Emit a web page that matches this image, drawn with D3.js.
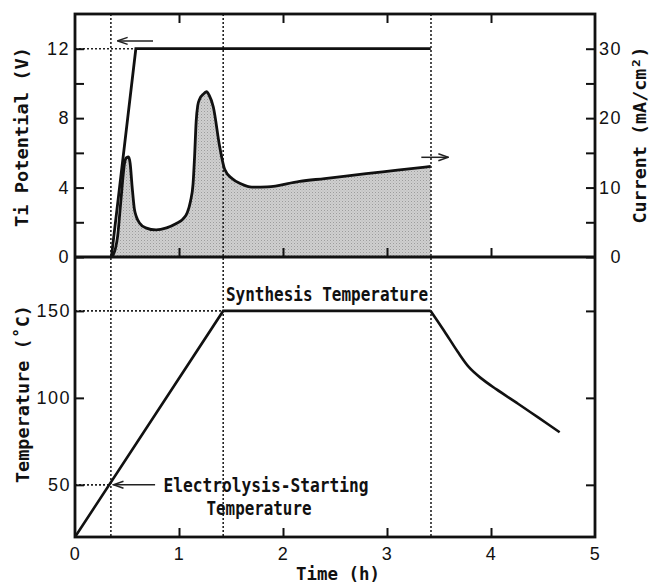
<!DOCTYPE html>
<html><head><meta charset="utf-8">
<script src="https://cdn.jsdelivr.net/npm/d3@7"></script>
<style>
html,body{margin:0;padding:0;background:#fff;}
svg{display:block;}
.tick text{font-family:"Liberation Sans",Arial,sans-serif;font-size:18px;letter-spacing:1.5px;fill:#111;}
.ttl{font-family:"DejaVu Sans Mono",monospace;font-weight:bold;font-size:18px;fill:#111;}
.ann{font-size:19.5px;}
</style>
</head><body>
<svg id="c" width="649" height="585"></svg>
<script>
// ---- data ----
const timeTicks = [0, 1, 2, 3, 4, 5];
const potentialTicks = [0, 2, 4, 6, 8, 10, 12];
const potentialLabeled = [0, 4, 8, 12];
const currentTicks = [0, 5, 10, 15, 20, 25, 30];
const currentLabeled = [0, 10, 20, 30];
const tempTicks = [50, 100, 150];

const potentialTime = [0.35, 0.585, 3.42];
const potentialV = [0, 12, 12];

const currentTime = [0.35, 0.37, 0.39, 0.41, 0.43, 0.455, 0.475, 0.495, 0.515, 0.53, 0.55, 0.57, 0.59, 0.62, 0.68, 0.78, 0.88, 0.97, 1.04, 1.08, 1.11, 1.135, 1.15, 1.165, 1.18, 1.2, 1.23, 1.265, 1.29, 1.33, 1.39, 1.44, 1.51, 1.6, 1.7, 1.85, 2.16, 2.4, 2.8, 3.1, 3.42];
const currentVal  = [0, 0.4, 1.3, 3, 6.2, 10.5, 13.4, 14.3, 14.4, 13.5, 10, 7, 5.8, 4.9, 4.2, 3.9, 4.2, 4.8, 5.5, 6.4, 8, 10.5, 14.5, 19.5, 21.8, 22.8, 23.4, 23.8, 23.3, 21.6, 16, 12.6, 11.3, 10.5, 10.05, 10.1, 10.9, 11.3, 12.0, 12.5, 13.05];

const tempRampTime = [0, 1.425, 3.42];
const tempRampVal = [20, 150, 150];
const tempCoolTime = [3.42, 3.55, 3.68, 3.79, 3.9, 4.05, 4.26, 4.46, 4.66];
const tempCoolVal = [150, 138.5, 126.5, 117.5, 111.5, 105, 96.6, 88.5, 80.2];

const markerTimes = [0.345, 1.425, 3.423];
const axisTitles = ["Ti Potential (V)", "Current (mA/cm²)", "Temperature (˚C)", "Time (h)"];

// ---- layout ----
const svg = d3.select("#c");
const L = 75, R = 595, T = 14, M = 257, B = 537;
const x = d3.scaleLinear().domain([0, 5]).range([L, R]);
const yV = d3.scaleLinear().domain([0, 14]).range([M, T]);
const yI = d3.scaleLinear().domain([0, 35]).range([M, T]);
const yT = d3.scaleLinear().domain([20, 181]).range([B, M]);

svg.append("rect").attr("width", 649).attr("height", 585).attr("fill", "#fff");

const defs = svg.append("defs");
const pat = defs.append("pattern").attr("id", "stip").attr("width", 3).attr("height", 3).attr("patternUnits", "userSpaceOnUse");
pat.append("rect").attr("width", 3).attr("height", 3).attr("fill", "#cfcfcf");
pat.append("rect").attr("width", 1).attr("height", 1).attr("fill", "#9c9c9c");
pat.append("rect").attr("x", 1.5).attr("y", 1.5).attr("width", 1).attr("height", 1).attr("fill", "#b6b6b6");

const mk = defs.append("marker").attr("id", "arr").attr("viewBox", "0 0 12 10").attr("refX", 11).attr("refY", 5)
  .attr("markerWidth", 12).attr("markerHeight", 10).attr("markerUnits", "userSpaceOnUse").attr("orient", "auto");
mk.append("path").attr("d", "M1,1.5 L11,5 L1,8.5").attr("fill", "none").attr("stroke", "#222").attr("stroke-width", 1.5);

// current fill
const curData = currentTime.map((t, i) => [t, currentVal[i]]);
svg.append("path").datum(curData)
  .attr("d", d3.area().x(d => x(d[0])).y0(yI(0)).y1(d => yI(d[1])).curve(d3.curveMonotoneX))
  .attr("fill", "url(#stip)");

// dotted guides
function dline(x1, y1, x2, y2) {
  svg.append("line").attr("x1", x1).attr("y1", y1).attr("x2", x2).attr("y2", y2)
    .attr("stroke", "#222").attr("stroke-width", 1.6).attr("stroke-dasharray", "2,2");
}
markerTimes.forEach(t => dline(x(t), T, x(t), B));
dline(L, yV(12), x(potentialTime[1]), yV(12));
dline(L, yT(150), x(tempRampTime[1]), yT(150));
dline(L, yT(50), x(markerTimes[0]), yT(50));

// current line
svg.append("path").datum(curData)
  .attr("d", d3.line().x(d => x(d[0])).y(d => yI(d[1])).curve(d3.curveMonotoneX))
  .attr("fill", "none").attr("stroke", "#111").attr("stroke-width", 2.8).attr("stroke-linejoin", "round");

// potential line
svg.append("path").datum(potentialTime.map((t, i) => [t, potentialV[i]]))
  .attr("d", d3.line().x(d => x(d[0])).y(d => yV(d[1])))
  .attr("fill", "none").attr("stroke", "#111").attr("stroke-width", 2.8);

// temperature
svg.append("path").datum(tempRampTime.map((t, i) => [t, tempRampVal[i]]))
  .attr("d", d3.line().x(d => x(d[0])).y(d => yT(d[1])))
  .attr("fill", "none").attr("stroke", "#111").attr("stroke-width", 2.6);
svg.append("path").datum(tempCoolTime.map((t, i) => [t, tempCoolVal[i]]))
  .attr("d", d3.line().x(d => x(d[0])).y(d => yT(d[1])).curve(d3.curveCatmullRom.alpha(0.5)))
  .attr("fill", "none").attr("stroke", "#111").attr("stroke-width", 2.6);

// axes
function styleAxis(g) { g.select(".domain").remove(); g.selectAll(".tick line").attr("stroke", "#111").attr("stroke-width", 2); }
svg.append("g").attr("transform", `translate(${L},0)`)
  .call(d3.axisLeft(yV).tickValues(potentialTicks).tickSizeInner(-9).tickSizeOuter(0).tickPadding(5)
    .tickFormat(d => potentialLabeled.includes(d) ? d : ""))
  .call(styleAxis);
svg.append("g").attr("transform", `translate(${R},0)`)
  .call(d3.axisRight(yI).tickValues(currentTicks).tickSizeInner(-9).tickSizeOuter(0).tickPadding(0)
    .tickFormat(d => currentLabeled.includes(d) ? d : ""))
  .call(styleAxis)
  .selectAll(".tick text").attr("text-anchor", "end").attr("x", 27);
svg.append("g").attr("transform", `translate(${L},0)`)
  .call(d3.axisLeft(yT).tickValues(tempTicks).tickSizeInner(-9).tickSizeOuter(0).tickPadding(4))
  .call(styleAxis);
svg.append("g").attr("transform", `translate(${R},0)`)
  .call(d3.axisRight(yT).tickValues(tempTicks).tickSizeInner(-9).tickSizeOuter(0).tickFormat(""))
  .call(styleAxis);
svg.append("g").attr("transform", `translate(0,${B})`)
  .call(d3.axisBottom(x).tickValues(timeTicks).tickSizeInner(-9).tickSizeOuter(0).tickPadding(10).tickFormat(d3.format("d")))
  .call(styleAxis)
  .call(g => g.selectAll(".tick").filter(d => d === 0 || d === 5).select("line").remove());
svg.append("g").attr("transform", `translate(0,${M})`)
  .call(d3.axisBottom(x).tickValues(timeTicks.slice(1, -1)).tickSizeInner(-9).tickSizeOuter(0).tickFormat(""))
  .call(styleAxis);
svg.append("g").attr("transform", `translate(0,${T})`)
  .call(d3.axisTop(x).tickValues(timeTicks.slice(1, -1)).tickSizeInner(-9).tickSizeOuter(0).tickFormat(""))
  .call(styleAxis);

// frames
svg.append("rect").attr("x", L).attr("y", T).attr("width", R - L).attr("height", B - T)
  .attr("fill", "none").attr("stroke", "#111").attr("stroke-width", 2.8);
svg.append("line").attr("x1", L).attr("x2", R).attr("y1", M).attr("y2", M).attr("stroke", "#111").attr("stroke-width", 2.8);

// arrows
function arrow(x1, y1, x2, y2) {
  svg.append("line").attr("x1", x1).attr("y1", y1).attr("x2", x2).attr("y2", y2)
    .attr("stroke", "#222").attr("stroke-width", 1.5).attr("marker-end", "url(#arr)");
}
arrow(x(0.75), yV(12.45), x(0.41), yV(12.45));
arrow(x(3.33), yI(14.36), x(3.59), yI(14.36));
arrow(x(0.77), yT(50), x(0.37), yT(50));

// titles
function ttl(txt, cx, cy, len, rot, cls) {
  const t = svg.append("text").attr("class", "ttl" + (cls ? " " + cls : "")).attr("text-anchor", "middle")
    .attr("textLength", len).attr("lengthAdjust", "spacingAndGlyphs").text(txt);
  if (rot) t.attr("transform", `translate(${cx},${cy}) rotate(-90)`).attr("dy", "0.36em");
  else t.attr("x", cx).attr("y", cy);
  return t;
}
ttl(axisTitles[0], 21.5, 137, 180, true);
ttl(axisTitles[1], 640, 135, 177, true);
ttl(axisTitles[2], 23, 394, 178, true);
ttl(axisTitles[3], 338, 580, 84, false);
ttl("Synthesis Temperature", 327, 301, 202, false, "ann");
ttl("Electrolysis-Starting", 266, 492, 205, false, "ann");
ttl("Temperature", 259, 515, 105, false, "ann");
</script>
</body></html>
